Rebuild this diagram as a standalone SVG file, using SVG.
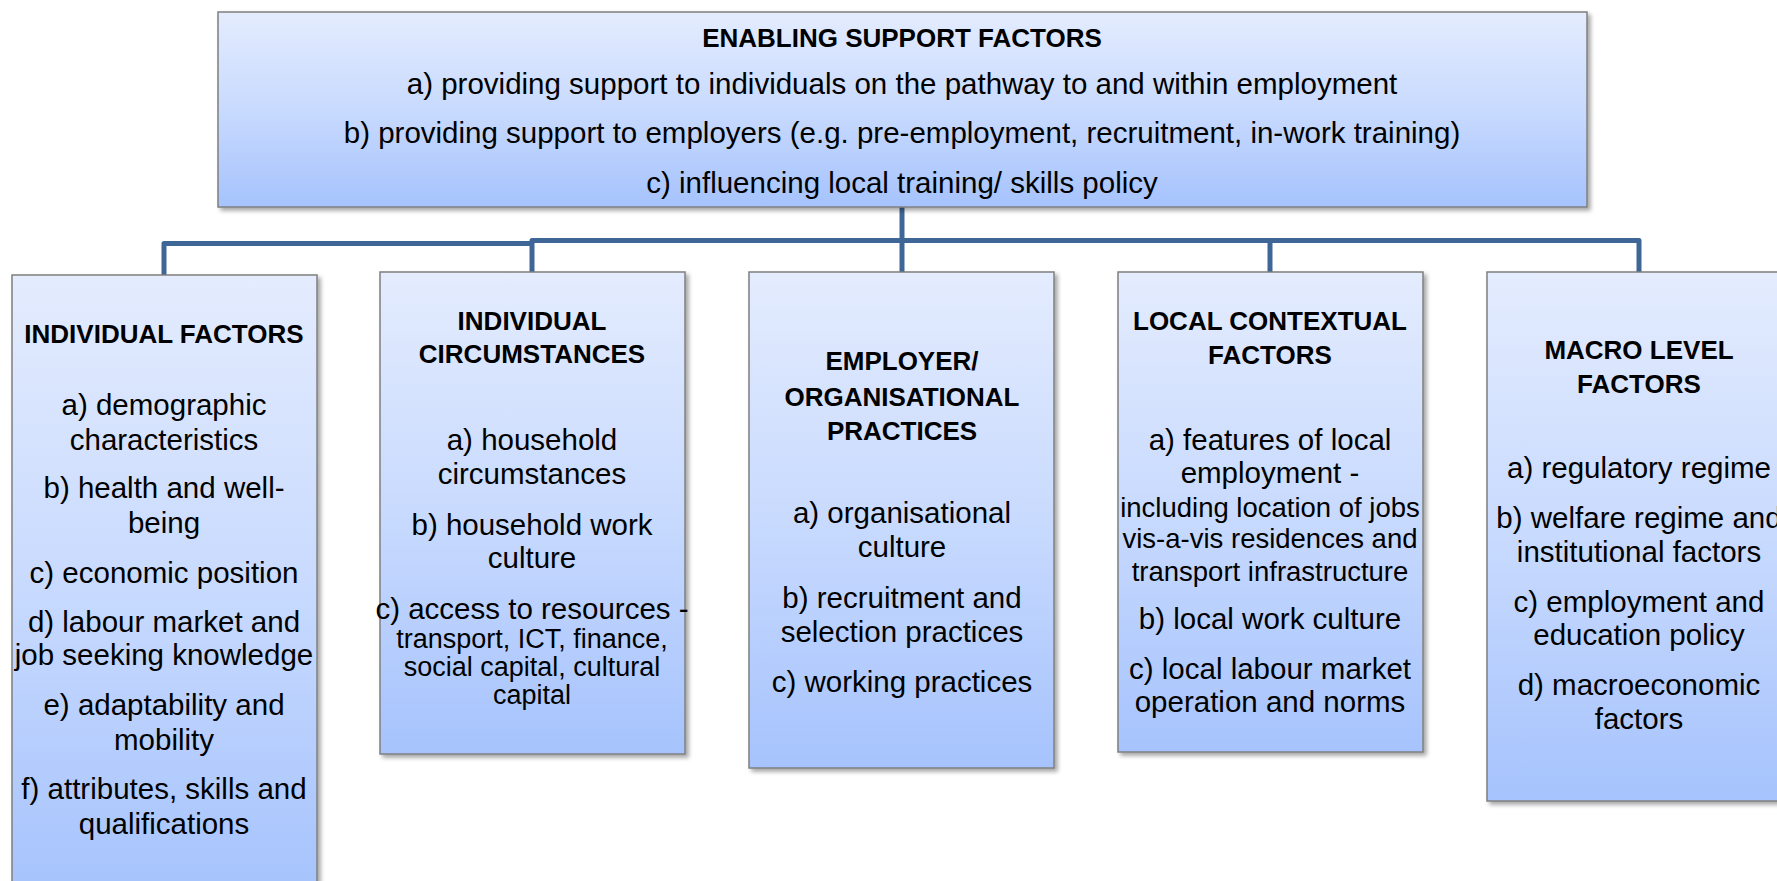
<svg xmlns="http://www.w3.org/2000/svg" width="1777" height="881" viewBox="0 0 1777 881">
<style>
text{font-family:"Liberation Sans",Arial,sans-serif;fill:#000;text-anchor:middle}
.h{font-weight:bold;font-size:26px}
.t{font-size:29.5px}
.s{font-size:27.5px}
.s2{font-size:27px}
.box{fill:url(#g);stroke:#7f7f7f;stroke-width:1.5;filter:url(#sh)}
.con{fill:none;stroke:#3e6696;stroke-width:5;stroke-linejoin:round}
</style>
<defs>
<linearGradient id="g" x1="0" y1="0" x2="0" y2="1">
<stop offset="0" stop-color="#e4ecfe"/>
<stop offset="0.5" stop-color="#c8dafe"/>
<stop offset="1" stop-color="#a6c3fd"/>
</linearGradient>
<filter id="sh" x="-5%" y="-5%" width="115%" height="115%">
<feDropShadow dx="3" dy="3" stdDeviation="2" flood-color="#000" flood-opacity="0.35"/>
</filter>
</defs>
<rect width="1777" height="881" fill="#fff"/>
<g id="connectors">
<path class="con" d="M902,207 V272"/>
<path class="con" d="M532,272 V240.5 H1639 V272"/>
<path class="con" d="M1270,240.5 V272"/>
<path class="con" d="M532,243.5 H164 V275"/>
</g>
<g id="enabling">
<rect class="box" x="218" y="12" width="1369" height="195"/>
<text class="h" x="902" y="47">ENABLING SUPPORT FACTORS</text>
<text class="t" x="902" y="94">a) providing support to individuals on the pathway to and within employment</text>
<text class="t" x="902" y="143">b) providing support to employers (e.g. pre-employment, recruitment, in-work training)</text>
<text class="t" x="902" y="193">c) influencing local training/ skills policy</text>
</g>
<g id="individual-factors">
<rect class="box" x="12" y="275" width="305" height="620"/>
<text class="h" x="164" y="343">INDIVIDUAL FACTORS</text>
<text class="t" x="164" y="415">a) demographic</text>
<text class="t" x="164" y="450">characteristics</text>
<text class="t" x="164" y="498">b) health and well-</text>
<text class="t" x="164" y="533">being</text>
<text class="t" x="164" y="583">c) economic position</text>
<text class="t" x="164" y="632">d) labour market and</text>
<text class="t" x="164" y="665">job seeking knowledge</text>
<text class="t" x="164" y="715">e) adaptability and</text>
<text class="t" x="164" y="750">mobility</text>
<text class="t" x="164" y="799">f) attributes, skills and</text>
<text class="t" x="164" y="834">qualifications</text>
</g>
<g id="individual-circumstances">
<rect class="box" x="380" y="272" width="305" height="482"/>
<text class="h" x="532" y="330">INDIVIDUAL</text>
<text class="h" x="532" y="363">CIRCUMSTANCES</text>
<text class="t" x="532" y="450">a) household</text>
<text class="t" x="532" y="484">circumstances</text>
<text class="t" x="532" y="535">b) household work</text>
<text class="t" x="532" y="568">culture</text>
<text class="t" x="532" y="619">c) access to resources -</text>
<text class="s2" x="532" y="648">transport, ICT, finance,</text>
<text class="s2" x="532" y="676">social capital, cultural</text>
<text class="s2" x="532" y="704">capital</text>
</g>
<g id="employer-practices">
<rect class="box" x="749" y="272" width="305" height="496"/>
<text class="h" x="902" y="370">EMPLOYER/</text>
<text class="h" x="902" y="406">ORGANISATIONAL</text>
<text class="h" x="902" y="440">PRACTICES</text>
<text class="t" x="902" y="523">a) organisational</text>
<text class="t" x="902" y="557">culture</text>
<text class="t" x="902" y="608">b) recruitment and</text>
<text class="t" x="902" y="642">selection practices</text>
<text class="t" x="902" y="692">c) working practices</text>
</g>
<g id="local-contextual">
<rect class="box" x="1118" y="272" width="305" height="480"/>
<text class="h" x="1270" y="330">LOCAL CONTEXTUAL</text>
<text class="h" x="1270" y="364">FACTORS</text>
<text class="t" x="1270" y="450">a) features of local</text>
<text class="t" x="1270" y="483">employment -</text>
<text class="s" x="1270" y="517">including location of jobs</text>
<text class="s" x="1270" y="548">vis-a-vis residences and</text>
<text class="s" x="1270" y="581">transport infrastructure</text>
<text class="t" x="1270" y="629">b) local work culture</text>
<text class="t" x="1270" y="679">c) local labour market</text>
<text class="t" x="1270" y="712">operation and norms</text>
</g>
<g id="macro-level">
<rect class="box" x="1487" y="272" width="305" height="529"/>
<text class="h" x="1639" y="359">MACRO LEVEL</text>
<text class="h" x="1639" y="393">FACTORS</text>
<text class="t" x="1639" y="478">a) regulatory regime</text>
<text class="t" x="1639" y="528">b) welfare regime and</text>
<text class="t" x="1639" y="562">institutional factors</text>
<text class="t" x="1639" y="612">c) employment and</text>
<text class="t" x="1639" y="645">education policy</text>
<text class="t" x="1639" y="695">d) macroeconomic</text>
<text class="t" x="1639" y="729">factors</text>
</g>
</svg>
